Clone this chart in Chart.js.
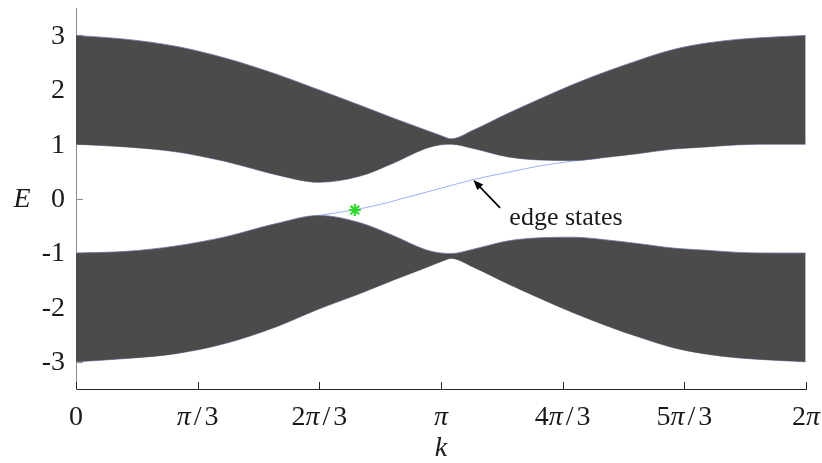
<!DOCTYPE html>
<html>
<head>
<meta charset="utf-8">
<script src="https://cdn.jsdelivr.net/npm/chart.js@4"></script>
<style>
	body { margin: 0; background: #fff; }
	#wrap { width: 822px; height: 463px; }
</style>
</head>
<body>
<div id="wrap"><canvas id="band-chart" width="822" height="463"></canvas></div>
<script>
const kGrid = [0, 0.43, 0.86, 1.29, 1.72, 2.09, 2.44, 2.73, 3.01, 3.14, 3.23, 3.42, 3.71, 3.99, 4.28, 4.57, 4.85, 5.14, 5.43, 5.71, 6.0, 6.28];
const upperTop = [3.0, 2.93, 2.8, 2.58, 2.29, 2.0, 1.72, 1.48, 1.26, 1.16, 1.1, 1.26, 1.56, 1.83, 2.1, 2.34, 2.55, 2.74, 2.86, 2.93, 2.97, 3.0];
const upperBottom = [1.0, 0.95, 0.86, 0.68, 0.44, 0.3, 0.41, 0.65, 0.92, 0.99, 1.0, 0.92, 0.77, 0.71, 0.7, 0.76, 0.83, 0.91, 0.95, 0.99, 1.0, 1.0];
const lowerTop = [-1.0, -0.97, -0.87, -0.7, -0.46, -0.31, -0.44, -0.68, -0.94, -1.0, -1.01, -0.93, -0.78, -0.72, -0.71, -0.76, -0.83, -0.91, -0.95, -0.99, -1.0, -1.0];
const lowerBottom = [-3.0, -2.94, -2.85, -2.66, -2.36, -2.03, -1.75, -1.5, -1.27, -1.16, -1.1, -1.26, -1.56, -1.83, -2.1, -2.34, -2.55, -2.74, -2.86, -2.93, -2.97, -3.0];

const edgeK = [1.95, 2.09, 2.39, 2.69, 2.79, 3.14, 3.42, 3.71, 3.99, 4.28, 4.5];
const edgeE = [-0.36, -0.31, -0.21, -0.07, -0.01, 0.19, 0.35, 0.48, 0.6, 0.69, 0.74];

const markerK = [2.4];
const markerE = [-0.21];

const xTickValues = [0, Math.PI / 3, 2 * Math.PI / 3, Math.PI, 4 * Math.PI / 3, 5 * Math.PI / 3, 2 * Math.PI];
const xTickLabels = ['0', 'π/3', '2π/3', 'π', '4π/3', '5π/3', '2π'];
const yTickValues = [3, 2, 1, 0, -1, -2, -3];
const yTickLabels = ['3', '2', '1', '0', '-1', '-2', '-3'];

const noteText = 'edge states';
const noteTip = { k: 3.42, E: 0.34 };
const noteTail = { k: 3.65, E: -0.17 };
const noteAt = { k: 3.73, E: -0.49 };

const serif = '"Liberation Serif", "DejaVu Serif", serif';

function pts(xs, ys) {
	return xs.map((x, i) => ({ x: x, y: ys[i] }));
}

function bandSet(top, bottom) {
	return [
		{
			data: pts(kGrid, top),
			borderColor: '#6f7aa6',
			borderWidth: 0.8,
			backgroundColor: '#4b4b4b',
			fill: '+1',
			order: 1,
		},
		{
			data: pts(kGrid, bottom),
			borderColor: '#6f7aa6',
			borderWidth: 0.8,
			fill: false,
			order: 1,
		},
	];
}

function drawXLabel(ctx, text, cx, y) {
	const up = '28px ' + serif;
	const it = 'italic 28px ' + serif;
	const parts = text.split('').map((ch) => {
		const font = ch === 'π' ? it : up;
		ctx.font = font;
		let w = ctx.measureText(ch).width;
		let pad = ch === '/' ? 3 : 0;
		return { ch: ch, font: font, w: w, pad: pad };
	});
	const total = parts.reduce((s, p) => s + p.w + 2 * p.pad, 0);
	let x = cx - total / 2;
	parts.forEach((p) => {
		ctx.font = p.font;
		ctx.fillText(p.ch, x + p.pad, y);
		x += p.w + 2 * p.pad;
	});
}

const axisDecor = {
	id: 'axisDecor',
	beforeDatasetsDraw(chart) {
		const { ctx, chartArea, scales } = chart;
		ctx.save();
		ctx.lineWidth = 1;
		ctx.strokeStyle = '#262626';
		xTickValues.forEach((v) => {
			const px = Math.round(scales.x.getPixelForValue(v)) + 0.5;
			ctx.beginPath();
			ctx.moveTo(px, chartArea.bottom);
			ctx.lineTo(px, chartArea.bottom - 7);
			ctx.stroke();
		});
		ctx.strokeStyle = '#8c8c8c';
		yTickValues.forEach((v) => {
			const py = Math.round(scales.y.getPixelForValue(v)) + 0.5;
			ctx.beginPath();
			ctx.moveTo(chartArea.left, py);
			ctx.lineTo(chartArea.left + 7, py);
			ctx.stroke();
		});
		ctx.restore();
	},
	afterDraw(chart) {
		const { ctx, chartArea, scales } = chart;
		ctx.save();
		ctx.fillStyle = '#1a1a1a';
		ctx.textBaseline = 'alphabetic';
		xTickValues.forEach((v, i) => {
			drawXLabel(ctx, xTickLabels[i], scales.x.getPixelForValue(v), chartArea.bottom + 36);
		});

		ctx.font = '28px ' + serif;
		ctx.textAlign = 'right';
		ctx.textBaseline = 'middle';
		yTickValues.forEach((v, i) => {
			ctx.fillText(yTickLabels[i], chartArea.left - 11, scales.y.getPixelForValue(v) + 1);
		});

		ctx.font = 'italic 28px ' + serif;
		ctx.textAlign = 'center';
		ctx.fillText('E', 22, scales.y.getPixelForValue(0) + 1);
		ctx.fillText('k', (chartArea.left + chartArea.right) / 2, chartArea.bottom + 60);

		// annotation arrow
		const tx = scales.x.getPixelForValue(noteTip.k);
		const ty = scales.y.getPixelForValue(noteTip.E);
		const sx = scales.x.getPixelForValue(noteTail.k);
		const sy = scales.y.getPixelForValue(noteTail.E);
		const ang = Math.atan2(ty - sy, tx - sx);
		ctx.strokeStyle = '#000';
		ctx.fillStyle = '#000';
		ctx.lineWidth = 1.6;
		ctx.beginPath();
		ctx.moveTo(sx, sy);
		ctx.lineTo(tx - 6 * Math.cos(ang), ty - 6 * Math.sin(ang));
		ctx.stroke();
		ctx.beginPath();
		ctx.moveTo(tx, ty);
		ctx.lineTo(tx - 10 * Math.cos(ang) + 4 * Math.sin(ang), ty - 10 * Math.sin(ang) - 4 * Math.cos(ang));
		ctx.lineTo(tx - 10 * Math.cos(ang) - 4 * Math.sin(ang), ty - 10 * Math.sin(ang) + 4 * Math.cos(ang));
		ctx.closePath();
		ctx.fill();

		ctx.fillStyle = '#1a1a1a';
		ctx.font = '26px ' + serif;
		ctx.textAlign = 'left';
		ctx.textBaseline = 'alphabetic';
		ctx.fillText(noteText, scales.x.getPixelForValue(noteAt.k), scales.y.getPixelForValue(noteAt.E));
		ctx.restore();
	},
};

document.addEventListener('DOMContentLoaded', () => {
	bandChart();
});

function bandChart() {
	const ctx = document.getElementById('band-chart');

	if (!ctx) {
		return;
	}

	new Chart(ctx, {
		type: 'line',
		data: {
			datasets: [
				{
					data: pts(markerK, markerE),
					showLine: false,
					pointStyle: 'star',
					pointRadius: 6,
					pointBorderWidth: 2.2,
					pointBorderColor: '#2ed82e',
					pointBackgroundColor: '#2ed82e',
					order: 0,
				},
				...bandSet(upperTop, upperBottom),
				...bandSet(lowerTop, lowerBottom),
				{
					data: pts(edgeK, edgeE),
					borderColor: '#9fb0f5',
					borderWidth: 1,
					fill: false,
					order: 2,
				},
			],
		},
		options: {
			responsive: false,
			animation: false,
			events: [],
			elements: {
				point: {
					radius: 0,
				},
				line: {
					cubicInterpolationMode: 'monotone',
				},
			},
			layout: {
				padding: { left: 0, right: 16, top: 4, bottom: 0 },
			},
			plugins: {
				legend: {
					display: false,
				},
				tooltip: {
					enabled: false,
				},
			},
			scales: {
				x: {
					type: 'linear',
					min: 0,
					max: 2 * Math.PI,
					grid: { display: false },
					ticks: { display: false },
					border: { color: '#262626', width: 1 },
					afterFit: (scale) => {
						scale.height = 74;
					},
				},
				y: {
					min: -3.5,
					max: 3.5,
					grid: { display: false },
					ticks: { display: false },
					border: { color: '#8c8c8c', width: 1 },
					afterFit: (scale) => {
						scale.width = 76;
					},
				},
			},
		},
		plugins: [axisDecor],
	});
}
</script>
</body>
</html>
